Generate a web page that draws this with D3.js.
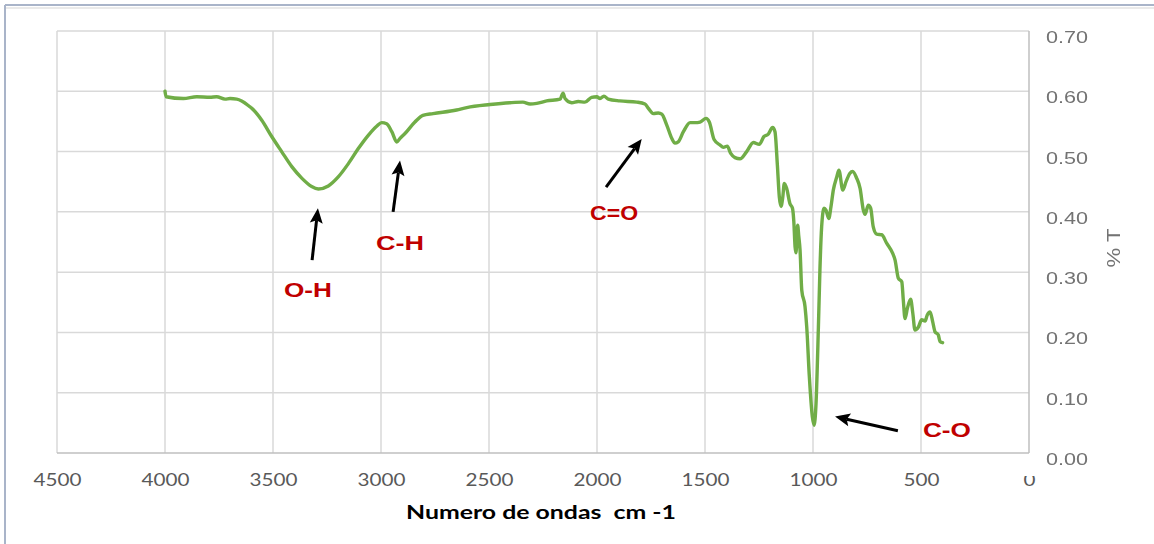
<!DOCTYPE html>
<html>
<head>
<meta charset="utf-8">
<script src="https://cdn.jsdelivr.net/npm/d3@7"></script>
<style>
  body { margin: 0; background: #fff; }
  svg { display: block; }
</style>
</head>
<body>
<svg id="chart" width="1154" height="544"></svg>
<script>
// FTIR spectrum: wavenumber (cm-1) and transmittance
const wavenumber = [
  4000, 3995, 3915, 3853, 3792, 3761, 3722, 3699, 3668, 3645, 3606, 3599, 3552, 3506, 3460, 3413,
  3367, 3321, 3290, 3244, 3198, 3151, 3105, 3059, 3020, 2997, 2974, 2950, 2927, 2912, 2889, 2843,
  2806, 2759, 2650, 2603, 2495, 2403, 2343, 2310, 2279, 2233, 2171, 2157, 2148, 2117, 2087, 2056,
  2025, 2001, 1986, 1968, 1948, 1894, 1816, 1778, 1763, 1739, 1716, 1700, 1677, 1654, 1639, 1624,
  1600, 1569, 1546, 1523, 1495, 1480, 1458, 1431, 1415, 1397, 1381, 1361, 1338, 1307, 1276, 1249,
  1227, 1207, 1187, 1176, 1165, 1156, 1148, 1140, 1133, 1122, 1107, 1095, 1089, 1083, 1079, 1074,
  1071, 1066, 1060, 1052, 1037, 1029, 1017, 1003, 995, 986, 975, 968, 960, 949, 940, 927,
  917, 906, 890, 880, 862, 847, 829, 816, 798, 782, 767, 759, 744, 733, 721, 705,
  682, 659, 631, 620, 605, 589, 582, 574, 563, 548, 538, 528, 512, 497, 481, 471,
  458, 446, 435, 420, 412, 400
];
const transmittance = [
  0.600, 0.591, 0.588, 0.591, 0.590, 0.591, 0.587, 0.588, 0.587, 0.584, 0.574, 0.572, 0.552, 0.525, 0.500, 0.475,
  0.456, 0.442, 0.438, 0.443, 0.458, 0.480, 0.505, 0.527, 0.542, 0.548, 0.546, 0.533, 0.516, 0.522, 0.530, 0.549,
  0.560, 0.563, 0.569, 0.573, 0.578, 0.581, 0.582, 0.579, 0.580, 0.584, 0.587, 0.597, 0.588, 0.581, 0.583, 0.582,
  0.590, 0.591, 0.588, 0.592, 0.587, 0.584, 0.582, 0.579, 0.572, 0.563, 0.564, 0.562, 0.544, 0.522, 0.514, 0.516,
  0.533, 0.548, 0.548, 0.549, 0.555, 0.549, 0.520, 0.511, 0.507, 0.509, 0.497, 0.490, 0.488, 0.500, 0.515, 0.512,
  0.525, 0.529, 0.540, 0.533, 0.478, 0.425, 0.409, 0.424, 0.447, 0.439, 0.414, 0.406, 0.385, 0.342, 0.332, 0.360,
  0.378, 0.360, 0.337, 0.270, 0.243, 0.209, 0.127, 0.060, 0.046, 0.082, 0.209, 0.303, 0.375, 0.406, 0.403, 0.389,
  0.408, 0.436, 0.458, 0.469, 0.436, 0.450, 0.464, 0.467, 0.456, 0.439, 0.403, 0.396, 0.411, 0.406, 0.375, 0.363,
  0.362, 0.348, 0.331, 0.320, 0.290, 0.284, 0.254, 0.223, 0.240, 0.255, 0.232, 0.204, 0.209, 0.221, 0.219, 0.229,
  0.234, 0.218, 0.201, 0.196, 0.185, 0.183
];

const xTicks = [4500, 4000, 3500, 3000, 2500, 2000, 1500, 1000, 500, 0];
const yTicks = [0, 0.1, 0.2, 0.3, 0.4, 0.5, 0.6, 0.7];

// Band assignments: label, arrow tip, arrow tail, label anchor (wavenumber, T)
const bandLabels = ["O-H", "C-H", "C=O", "C-O"];
const bandTips   = [[3292, 0.406], [2912, 0.485], [1793, 0.521], [898, 0.0605]];
const bandTails  = [[3319, 0.320], [2944, 0.400], [1958, 0.441], [607, 0.037]];
const bandText   = [[3338, 0.259], [2912, 0.337], [1921, 0.386], [380, 0.0265]];

const svg = d3.select("#chart");
const plot = { left: 57, right: 1029, top: 31, bottom: 453 };

const x = d3.scaleLinear().domain([4500, 0]).range([plot.left, plot.right]);
const y = d3.scaleLinear().domain([0, 0.7]).range([plot.bottom, plot.top]);

// Outer chart frame
svg.append("line").attr("x1", 5).attr("x2", 1154).attr("y1", 5).attr("y2", 5)
  .attr("stroke", "#a9b4c9").attr("stroke-width", 2);
svg.append("line").attr("x1", 6).attr("x2", 1154).attr("y1", 8).attr("y2", 8)
  .attr("stroke", "#e3e3e3").attr("stroke-width", 1.5);
svg.append("line").attr("x1", 5).attr("x2", 5).attr("y1", 5).attr("y2", 544)
  .attr("stroke", "#a9b4c9").attr("stroke-width", 2);

// Gridlines
const grid = svg.append("g").attr("stroke", "#d9d9d9").attr("stroke-width", 1.5);
grid.selectAll("line.v").data(xTicks.filter(d => d !== 0)).join("line")
  .attr("class", "v")
  .attr("x1", d => x(d)).attr("x2", d => x(d))
  .attr("y1", plot.top).attr("y2", plot.bottom);
grid.selectAll("line.h").data(yTicks.filter(d => d !== 0)).join("line")
  .attr("class", "h")
  .attr("x1", plot.left).attr("x2", plot.right)
  .attr("y1", d => y(d)).attr("y2", d => y(d));

// Axis lines (value axis sits at wavenumber 0, on the right)
svg.append("line").attr("x1", plot.left).attr("x2", plot.right)
  .attr("y1", y(0)).attr("y2", y(0)).attr("stroke", "#bfbfbf").attr("stroke-width", 1.5);
svg.append("line").attr("x1", x(0)).attr("x2", x(0))
  .attr("y1", plot.top).attr("y2", plot.bottom).attr("stroke", "#bfbfbf").attr("stroke-width", 1.5);

const defs = svg.append("defs");
// the "0" label is partly hidden under the value-axis label box (tick-local coordinates)
defs.append("clipPath").attr("id", "zeroClip")
  .append("rect").attr("x", -20).attr("y", 23).attr("width", 40).attr("height", 40);

// X tick labels
const xAxis = d3.axisBottom(x).tickValues(xTicks).tickSize(0).tickFormat(d3.format("d"));
const gx = svg.append("g").attr("transform", `translate(0,${plot.bottom})`).call(xAxis);
gx.select(".domain").remove();
gx.selectAll("text")
  .attr("y", 33).attr("dy", 0)
  .attr("fill", "#595959")
  .attr("textLength", d => 12 * String(d).length)
  .attr("lengthAdjust", "spacingAndGlyphs")
  .style("font-family", "Lato, 'Open Sans', sans-serif")
  .style("font-size", "17px");
gx.selectAll(".tick").filter(d => d === 0).select("text").attr("clip-path", "url(#zeroClip)");

// Soft blur on the value-axis labels
defs.append("filter").attr("id", "soft").attr("x", "-20%").attr("y", "-40%")
  .attr("width", "140%").attr("height", "180%")
  .append("feGaussianBlur").attr("stdDeviation", 0.65);

const yAxis = d3.axisRight(y).tickValues(yTicks).tickSize(0).tickFormat(d3.format(".2f"));
const gy = svg.append("g").attr("transform", `translate(${plot.right},0)`).call(yAxis);
gy.select(".domain").remove();
gy.selectAll("text")
  .attr("x", 17).attr("dy", "0.32em")
  .attr("transform", "translate(0,6)")
  .attr("fill", "#737373")
  .attr("filter", "url(#soft)")
  .attr("textLength", 42).attr("lengthAdjust", "spacingAndGlyphs")
  .style("font-family", "'Liberation Sans', Arial, sans-serif")
  .style("font-size", "17px");

// Axis titles
svg.append("text")
  .attr("transform", "translate(1120,248) rotate(-90)")
  .attr("text-anchor", "middle")
  .attr("fill", "#737373")
  .attr("filter", "url(#soft)")
  .attr("textLength", 39).attr("lengthAdjust", "spacingAndGlyphs")
  .style("font-family", "'Liberation Sans', Arial, sans-serif")
  .style("font-size", "18px")
  .text("% T");

svg.append("text")
  .attr("x", 541).attr("y", 519)
  .attr("text-anchor", "middle")
  .attr("fill", "#000")
  .attr("textLength", 270).attr("lengthAdjust", "spacingAndGlyphs")
  .style("font-family", "Lato, 'Open Sans', sans-serif")
  .style("font-weight", "bold")
  .style("font-size", "18.5px")
  .style("white-space", "pre")
  .text("Numero de ondas  cm -1");

// Spectrum line
const pts = wavenumber.map((w, i) => [w, transmittance[i]]);
const line = d3.line().x(d => x(d[0])).y(d => y(d[1])).curve(d3.curveMonotoneX);
svg.append("path")
  .datum(pts)
  .attr("d", line)
  .attr("fill", "none")
  .attr("stroke", "#70ad47")
  .attr("stroke-width", 3.4)
  .attr("stroke-linejoin", "round")
  .attr("stroke-linecap", "round");

// Band annotations
const ann = svg.append("g");
bandLabels.forEach((lab, i) => {
  const tx = x(bandTips[i][0]), ty = y(bandTips[i][1]);
  const sx = x(bandTails[i][0]), sy = y(bandTails[i][1]);
  const dx = tx - sx, dy = ty - sy, len = Math.hypot(dx, dy);
  const ux = dx / len, uy = dy / len, nx = -uy, ny = ux;
  const headLen = 15, headHalf = 6.5;
  ann.append("line")
    .attr("x1", sx).attr("y1", sy)
    .attr("x2", tx - ux * (headLen - 3)).attr("y2", ty - uy * (headLen - 3))
    .attr("stroke", "#000").attr("stroke-width", 3);
  const bx = tx - ux * headLen, by = ty - uy * headLen;
  ann.append("path")
    .attr("d", `M${tx},${ty}L${bx + nx * headHalf},${by + ny * headHalf}L${bx + ux * 3},${by + uy * 3}L${bx - nx * headHalf},${by - ny * headHalf}Z`)
    .attr("fill", "#000");
  ann.append("text")
    .attr("x", x(bandText[i][0])).attr("y", y(bandText[i][1]))
    .attr("text-anchor", "middle")
    .attr("fill", "#c00000")
    .attr("textLength", 48).attr("lengthAdjust", "spacingAndGlyphs")
    .style("font-family", "'Liberation Sans', Arial, sans-serif")
    .style("font-weight", "bold")
    .style("font-size", "20px")
    .text(lab);
});
</script>
</body>
</html>
